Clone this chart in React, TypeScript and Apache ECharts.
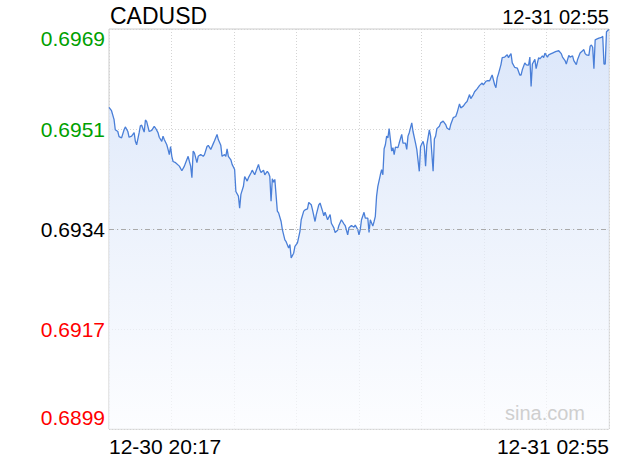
import React, { useEffect, useRef } from "react";
import * as echarts from "echarts";

const symbolName = "CADUSD";
const lastTime = "12-31 02:55";
const watermark = "sina.com";
const xTickLabels = ["12-30 20:17", "12-31 02:55"];
const totalMinutes = 398;
const prevClose = 0.6934;
const yStep = 0.0017335;
const yMin = 0.689933;
const yMax = 0.696867;
const yTickLabels = ["0.6899", "0.6917", "0.6934", "0.6951", "0.6969"];

const minuteOffsets = [
  0, 2, 4, 5, 7, 8, 10, 12, 13, 15, 16, 18, 20, 21, 22, 24, 25, 26, 28, 29, 30, 32, 34, 36, 37, 39, 40, 42, 43, 44,
  46, 47, 48, 49, 50, 51, 53, 56, 58, 60, 61, 63, 64, 65, 66, 67, 68, 70, 71, 73, 75, 76, 78, 79, 81, 83, 84, 86, 87, 89,
  90, 92, 93, 94, 95, 97, 98, 100, 101, 103, 104, 105, 107, 108, 110, 111, 113, 114, 116, 117, 119, 120, 121, 123, 124, 126, 127, 128, 129, 130,
  131, 132, 134, 135, 137, 138, 140, 141, 143, 144, 145, 147, 148, 150, 152, 153, 155, 156, 158, 159, 161, 162, 164, 165, 167, 168, 170, 171, 172, 174,
  176, 177, 179, 180, 182, 183, 185, 187, 188, 190, 191, 193, 195, 196, 198, 199, 200, 201, 203, 204, 206, 207, 208, 210, 211, 212, 213, 214, 216, 217,
  218, 219, 220, 221, 222, 223, 224, 225, 226, 227, 228, 230, 231, 233, 234, 236, 237, 238, 239, 241, 242, 244, 245, 247, 248, 250, 251, 252, 253, 255,
  256, 258, 259, 260, 261, 263, 264, 266, 268, 269, 271, 272, 274, 276, 277, 279, 280, 282, 284, 285, 287, 288, 290, 291, 293, 295, 297, 298, 300, 301,
  303, 304, 305, 307, 308, 309, 310, 312, 313, 315, 317, 318, 319, 320, 321, 323, 325, 326, 327, 328, 329, 331, 332, 333, 334, 335, 336, 337, 339, 340,
  342, 343, 345, 346, 347, 349, 350, 352, 353, 355, 356, 358, 360, 361, 363, 364, 366, 367, 369, 370, 372, 373, 375, 377, 378, 379, 380, 382, 383, 384,
  385, 386, 387, 389, 390, 392, 393, 394, 395, 396, 397, 398,
];

const prices = [
  0.69551, 0.69545, 0.6953, 0.69512, 0.69509, 0.695, 0.69498, 0.69512, 0.69517, 0.69509, 0.69499, 0.69501, 0.69507, 0.69492, 0.69486, 0.69507, 0.69519, 0.6952, 0.69508, 0.69529, 0.69526, 0.69509, 0.69511, 0.69518, 0.69515, 0.69507, 0.69499, 0.69492, 0.69501, 0.69495,
  0.69486, 0.69478, 0.69469, 0.69483, 0.69466, 0.69457, 0.69455, 0.69449, 0.69441, 0.69449, 0.69455, 0.69466, 0.69457, 0.69449, 0.69429, 0.69475, 0.69472, 0.69455, 0.69466, 0.69469, 0.69466, 0.69469, 0.69483, 0.69485, 0.69478, 0.69488, 0.69493, 0.69504, 0.69495, 0.69485,
  0.69466, 0.69469, 0.69466, 0.69479, 0.69466, 0.6946, 0.69452, 0.69443, 0.69405, 0.69397, 0.69376, 0.694, 0.69414, 0.69431, 0.69423, 0.69429, 0.69437, 0.69442, 0.69434, 0.6944, 0.69452, 0.69443, 0.69438, 0.69442, 0.69434, 0.6944, 0.69437, 0.69431, 0.69388, 0.69427,
  0.69421, 0.69426, 0.69371, 0.69368, 0.69353, 0.69339, 0.69321, 0.69318, 0.69307, 0.69313, 0.6929, 0.69298, 0.6931, 0.69316, 0.69336, 0.69356, 0.69371, 0.69373, 0.69375, 0.69386, 0.69382, 0.69373, 0.69353, 0.69365, 0.69382, 0.69385, 0.69371, 0.69363, 0.69369, 0.69356,
  0.69365, 0.6935, 0.69342, 0.69334, 0.69338, 0.69346, 0.69356, 0.69349, 0.69346, 0.6933, 0.69342, 0.69346, 0.69343, 0.69347, 0.69339, 0.6933, 0.69339, 0.69356, 0.69369, 0.69359, 0.69359, 0.69334, 0.69356, 0.69345, 0.69353, 0.69362, 0.69397, 0.69414, 0.69434, 0.69443,
  0.69434, 0.69479, 0.69486, 0.69501, 0.69498, 0.69514, 0.69495, 0.69475, 0.69481, 0.69469, 0.69482, 0.69481, 0.69489, 0.69504, 0.69489, 0.69489, 0.69478, 0.69501, 0.69507, 0.69524, 0.69509, 0.69489, 0.69478, 0.6944, 0.69483, 0.69492, 0.69483, 0.69449, 0.69486, 0.69512,
  0.69501, 0.6944, 0.69496, 0.69501, 0.69514, 0.69518, 0.69524, 0.69527, 0.69521, 0.69515, 0.69512, 0.69521, 0.69533, 0.69535, 0.69541, 0.69557, 0.6955, 0.69553, 0.69559, 0.69561, 0.69573, 0.69566, 0.69573, 0.69578, 0.69583, 0.69589, 0.69593, 0.6959, 0.69596, 0.69597,
  0.69597, 0.69602, 0.69607, 0.6959, 0.69585, 0.69602, 0.69609, 0.69625, 0.69637, 0.69638, 0.69642, 0.69637, 0.69641, 0.69644, 0.69628, 0.6962, 0.69619, 0.69613, 0.69607, 0.69607, 0.69616, 0.69628, 0.69625, 0.69624, 0.69624, 0.69638, 0.69587, 0.69626, 0.69634, 0.69618,
  0.69637, 0.69635, 0.6964, 0.69637, 0.69645, 0.69638, 0.69642, 0.69644, 0.69645, 0.69647, 0.69648, 0.69649, 0.69644, 0.69638, 0.69632, 0.69626, 0.69641, 0.69638, 0.6964, 0.69632, 0.69625, 0.69634, 0.69645, 0.69649, 0.69651, 0.69644, 0.69642, 0.69641, 0.69657, 0.69659,
  0.69655, 0.69618, 0.69668, 0.6967, 0.69671, 0.69672, 0.69674, 0.69626, 0.69626, 0.69682, 0.69684, 0.69686,
];

const FONT = "'Liberation Sans', Arial, Helvetica, sans-serif";

export default function App() {
  const ref = useRef<HTMLDivElement>(null);

  useEffect(() => {
    if (!ref.current) return;
    const chart = echarts.init(ref.current, null, { renderer: "svg" });
    const data = minuteOffsets.map((m, i) => [m, prices[i]]);

    chart.setOption({
      animation: false,
      textStyle: { fontFamily: FONT },
      grid: {
        left: 109,
        right: 11,
        top: 29,
        bottom: 31,
        show: true,
        borderColor: "#cccccc",
        borderWidth: 1,
        backgroundColor: "transparent",
      },
      xAxis: {
        type: "value",
        min: 0,
        max: totalMinutes,
        interval: totalMinutes / 8,
        axisLine: { show: false },
        axisTick: { show: false },
        splitLine: { show: true, lineStyle: { color: "#d4d4d4", type: [1, 2], width: 1 } },
        axisLabel: {
          show: true,
          showMinLabel: true,
          showMaxLabel: true,
          alignMinLabel: "left",
          alignMaxLabel: "right",
          fontSize: 21,
          fontFamily: FONT,
          color: "#000000",
          margin: 7,
          formatter: (v: number) =>
            v === 0 ? xTickLabels[0] : Math.abs(v - totalMinutes) < 1e-6 ? xTickLabels[1] : "",
        },
      },
      yAxis: {
        type: "value",
        min: yMin,
        max: yMax,
        interval: yStep,
        axisLine: { show: false },
        axisTick: { show: false },
        splitLine: { show: true, lineStyle: { color: "#d4d4d4", type: [1, 2], width: 1 } },
        axisLabel: {
          show: true,
          showMinLabel: true,
          showMaxLabel: true,
          margin: 4,
          formatter: (v: number, i: number) => {
            const label = yTickLabels[i] ?? v.toFixed(4);
            return `{a${i}|${label}}`;
          },
          rich: {
            a0: { color: "#ff0000", fontSize: 21, fontFamily: FONT, padding: [0, 0, 24, 0] },
            a1: { color: "#ff0000", fontSize: 21, fontFamily: FONT },
            a2: { color: "#000000", fontSize: 21, fontFamily: FONT },
            a3: { color: "#00a000", fontSize: 21, fontFamily: FONT },
            a4: { color: "#00a000", fontSize: 21, fontFamily: FONT, padding: [19, 0, 0, 0] },
          },
        },
      },
      graphic: [
        {
          type: "text",
          x: 110,
          y: 16,
          style: {
            text: symbolName,
            fontSize: 23,
            fontFamily: FONT,
            fill: "#000000",
            verticalAlign: "middle",
          },
        },
        {
          type: "text",
          x: 609,
          y: 17,
          style: {
            text: lastTime,
            fontSize: 20,
            fontFamily: FONT,
            fill: "#000000",
            align: "right",
            verticalAlign: "middle",
          },
        },
        {
          type: "text",
          x: 585,
          y: 413,
          z: 10,
          style: {
            text: watermark,
            fontSize: 20,
            fontFamily: FONT,
            fill: "#cfcfcf",
            align: "right",
            verticalAlign: "middle",
          },
        },
      ],
      series: [
        {
          type: "line",
          data,
          showSymbol: false,
          symbol: "none",
          lineStyle: { color: "#4a7fd8", width: 1.3 },
          areaStyle: {
            color: {
              type: "linear",
              x: 0,
              y: 29,
              x2: 0,
              y2: 429,
              global: true,
              colorStops: [
                { offset: 0, color: "#ccdcf8" },
                { offset: 0.5, color: "#e5edfb" },
                { offset: 1, color: "#fbfcff" },
              ],
            },
          },
          markLine: {
            silent: true,
            symbol: ["none", "none"],
            label: { show: false },
            lineStyle: { color: "#aaaaaa", type: [5, 3, 1, 3], width: 1 },
            data: [
              [
                { coord: [0, prevClose] },
                { coord: [totalMinutes, prevClose] },
              ],
            ],
          },
        },
      ],
    });

    return () => chart.dispose();
  }, []);

  return (
    <div
      ref={ref}
      style={{ position: "absolute", left: 0, top: 0, width: 620, height: 460 }}
    />
  );
}
